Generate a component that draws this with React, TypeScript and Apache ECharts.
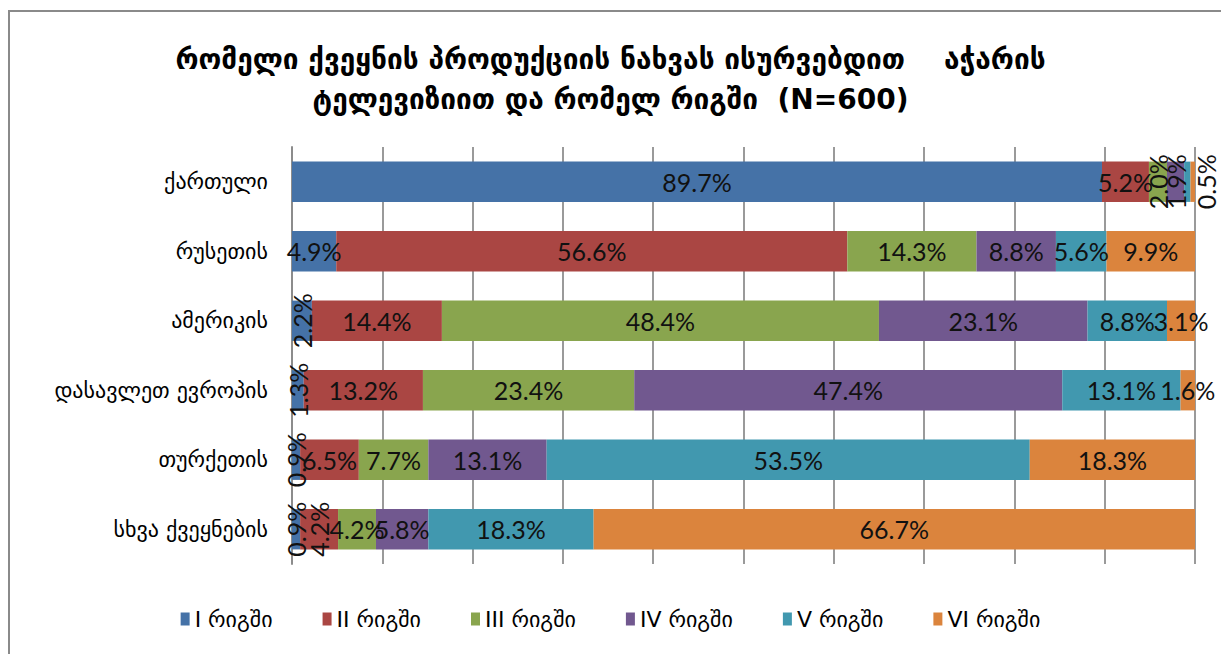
import React, { useEffect, useRef } from "react";
import * as echarts from "echarts";

const titleLines = [
  "რომელი ქვეყნის პროდუქციის ნახვას ისურვებდით    აჭარის",
  "ტელევიზიით და რომელ რიგში  (N=600)",
];
const categories = [
  "ქართული",
  "რუსეთის",
  "ამერიკის",
  "დასავლეთ ევროპის",
  "თურქეთის",
  "სხვა ქვეყნების",
];
const seriesNames = ["I რიგში", "II რიგში", "III რიგში", "IV რიგში", "V რიგში", "VI რიგში"];
const rank1 = [89.7, 4.9, 2.2, 1.3, 0.9, 0.9];
const rank2 = [5.2, 56.6, 14.4, 13.2, 6.5, 4.2];
const rank3 = [2.0, 14.3, 48.4, 23.4, 7.7, 4.2];
const rank4 = [1.9, 8.8, 23.1, 47.4, 13.1, 5.8];
const rank5 = [0.7, 5.6, 8.8, 13.1, 53.5, 18.3];
const rank6 = [0.5, 9.9, 3.1, 1.6, 18.3, 66.7];
const seriesValues = [rank1, rank2, rank3, rank4, rank5, rank6];
const colors = ["#4572A7", "#AA4643", "#89A54E", "#71588F", "#4198AF", "#DB843D"];
// [seriesIndex, categoryIndex] of labels drawn vertically
const rotatedLabels = [[2, 0], [3, 0], [5, 0], [0, 2], [0, 3], [0, 4], [0, 5], [1, 5]];
// labels not drawn
const hiddenLabels = [[4, 0]];
// labels shifted sideways: [seriesIndex, categoryIndex, dx]
const shiftedLabels = [[5, 0, 13]];

export default function App() {
  const ref = useRef<HTMLDivElement>(null);
  useEffect(() => {
    if (!ref.current) return;
    const chart = echarts.init(ref.current, undefined, { renderer: "svg" });
    const has = (list: number[][], s: number, c: number) =>
      list.some((p) => p[0] === s && p[1] === c);
    const series = seriesValues.map((vals, s) => ({
      name: seriesNames[s],
      type: "bar",
      stack: "total",
      barCategoryGap: "42%",
      itemStyle: { color: colors[s] },
      label: {
        show: true,
        position: "inside",
        formatter: (p: any) => `${Number(p.value).toFixed(1)}%`,
        fontFamily: "Lato",
        fontSize: 25,
        color: "#111",
      },
      data: vals.map((v, c) => {
        const item: any = { value: v };
        const lab: any = {};
        const rot = has(rotatedLabels, s, c);
        if (rot) lab.rotate = 90;
        if (has(hiddenLabels, s, c)) lab.show = false;
        const sh = shiftedLabels.find((p) => p[0] === s && p[1] === c);
        if (sh) lab.offset = rot ? [0, sh[2]] : [sh[2], 0];
        if (Object.keys(lab).length) item.label = lab;
        return item;
      }),
    }));
    chart.setOption({
      animation: false,
      backgroundColor: "#fff",
      title: {
        text: titleLines.join("\n"),
        left: "center",
        top: 39,
        padding: 0,
        textStyle: {
          fontFamily: "DejaVu Sans",
          fontWeight: "bold",
          fontSize: 28,
          lineHeight: 40,
          color: "#000",
        },
      },
      legend: {
        bottom: 19,
        left: "center",
        itemWidth: 9,
        itemHeight: 13,
        itemGap: 50,
        icon: "rect",
        textStyle: { fontFamily: "DejaVu Sans", fontSize: 22, color: "#000" },
        data: seriesNames,
      },
      grid: { left: 292, right: 26, top: 147, bottom: 90, containLabel: false },
      xAxis: {
        type: "value",
        min: 0,
        max: 100,
        interval: 10,
        axisLabel: { show: false },
        axisTick: { show: false },
        axisLine: { show: false },
        splitLine: { lineStyle: { color: "#9a9a9a", width: 2 } },
      },
      yAxis: {
        type: "category",
        inverse: true,
        data: categories,
        axisTick: { show: false },
        axisLine: { lineStyle: { color: "#8c8c8c", width: 2 } },
        axisLabel: {
          margin: 24,
          fontFamily: "DejaVu Sans",
          fontSize: 22,
          color: "#000",
        },
      },
      graphic: [
        {
          type: "rect",
          shape: { x: 9, y: 11, width: 1300, height: 700 },
          style: { fill: "none", stroke: "#8a8a8a", lineWidth: 2 },
          silent: true,
        },
      ],
      series,
    });
    return () => chart.dispose();
  }, []);
  return (
    <div
      ref={ref}
      style={{ position: "fixed", left: 0, top: 0, width: 1221, height: 654 }}
    />
  );
}
